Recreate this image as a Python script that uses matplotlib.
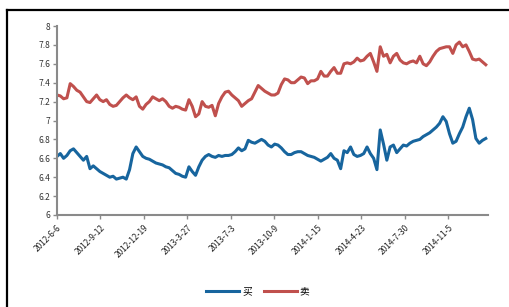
import matplotlib
matplotlib.use("Agg")
import matplotlib.pyplot as plt
from matplotlib.lines import Line2D
import pandas as pd

plt.rcParams['font.family'] = ['Noto Sans CJK SC', 'DejaVu Sans']

# ---- data ----
series_names = ["买", "卖"]
start_date = "2012-06-06"
end_date = "2015-01-28"
axis_end = "2015-02-02"

tick_labels = ["2012-6-6", "2012-9-12", "2012-12-19", "2013-3-27", "2013-7-3",
               "2013-10-9", "2014-1-15", "2014-4-23", "2014-7-30", "2014-11-5"]

blue_values = [
    6.62, 6.65, 6.60, 6.63, 6.68, 6.70, 6.66, 6.62, 6.58, 6.62,
    6.49, 6.52, 6.49, 6.46, 6.44, 6.42, 6.40, 6.41, 6.38, 6.39,
    6.40, 6.38, 6.48, 6.65, 6.72, 6.67, 6.62, 6.60, 6.59, 6.57,
    6.55, 6.54, 6.53, 6.51, 6.50, 6.47, 6.44, 6.43, 6.41, 6.40,
    6.51, 6.46, 6.42, 6.51, 6.58, 6.62, 6.64, 6.62, 6.61, 6.63,
    6.62, 6.63, 6.63, 6.64, 6.67, 6.71, 6.68, 6.70, 6.79, 6.77,
    6.76, 6.78, 6.80, 6.78, 6.74, 6.72,
    6.75, 6.74, 6.71, 6.67, 6.64, 6.64, 6.66, 6.67, 6.67, 6.65,
    6.63, 6.62, 6.61, 6.59, 6.57, 6.59, 6.61, 6.65, 6.60, 6.58,
    6.49, 6.68, 6.66, 6.72, 6.64, 6.62, 6.63, 6.65, 6.72, 6.65,
    6.60, 6.48, 6.90, 6.75, 6.58, 6.72, 6.74, 6.66, 6.70, 6.74,
    6.73, 6.76, 6.78, 6.79, 6.80, 6.83, 6.85, 6.87, 6.90, 6.93,
    6.97, 7.04, 6.99, 6.86, 6.76, 6.78, 6.86, 6.93, 7.04, 7.13,
    7.01, 6.81, 6.76, 6.79, 6.81,
]

red_values = [
    7.27, 7.26, 7.23, 7.24, 7.39, 7.36, 7.32, 7.30, 7.25, 7.20,
    7.19, 7.23, 7.27, 7.22, 7.20, 7.22, 7.17, 7.15, 7.16, 7.20,
    7.24, 7.27, 7.24, 7.22, 7.25, 7.15, 7.12, 7.17, 7.20, 7.25,
    7.23, 7.21, 7.23, 7.20, 7.15, 7.13, 7.15, 7.14, 7.12, 7.11,
    7.22, 7.15, 7.04, 7.07, 7.20, 7.15, 7.14, 7.16, 7.05, 7.18,
    7.25, 7.30, 7.31, 7.27, 7.24, 7.21, 7.15, 7.18, 7.21, 7.23,
    7.30, 7.37, 7.34, 7.31, 7.29, 7.27,
    7.27, 7.29, 7.38, 7.44, 7.43, 7.40, 7.40, 7.43, 7.46, 7.45,
    7.39, 7.42, 7.42, 7.44, 7.52, 7.47, 7.47, 7.52, 7.56, 7.50,
    7.50, 7.60, 7.61, 7.60, 7.62, 7.66, 7.63, 7.64, 7.68, 7.71,
    7.62, 7.52, 7.78, 7.68, 7.70, 7.61, 7.68, 7.71, 7.64, 7.61,
    7.60, 7.62, 7.63, 7.61, 7.68, 7.60, 7.58, 7.62, 7.68, 7.73,
    7.76, 7.77, 7.78, 7.78, 7.71, 7.80, 7.83, 7.78, 7.80, 7.73,
    7.65, 7.64, 7.65, 7.62, 7.59,
]

y_ticks = [6, 6.2, 6.4, 6.6, 6.8, 7, 7.2, 7.4, 7.6, 7.8, 8]
y_tick_labels = ["6", "6.2", "6.4", "6.6", "6.8", "7", "7.2", "7.4", "7.6", "7.8", "8"]

# ---- figure ----
W, H = 510, 307
fig = plt.figure(figsize=(W / 100, H / 100), dpi=100)
ax = fig.add_axes([57 / W, 1 - 215 / H, (488 - 57) / W, (215 - 26) / H])

blue = "#17659E"
red = "#C0504D"

blue_dates = pd.date_range(start_date, end_date, periods=len(blue_values))
red_dates = pd.date_range(start_date, end_date, periods=len(red_values))
ax.plot(blue_dates, blue_values, color=blue, lw=2.2, label=series_names[0])
ax.plot(red_dates, red_values, color=red, lw=2.2, label=series_names[1])

ax.set_ylim(6, 8)
ax.set_yticks(y_ticks)
ax.set_yticklabels(y_tick_labels)
ax.set_xlim(pd.Timestamp(start_date), pd.Timestamp(axis_end))
tick_dates = [pd.Timestamp(t) for t in tick_labels]
ax.set_xticks(tick_dates)
ax.set_xticklabels(tick_labels, rotation=45, ha="right", rotation_mode="anchor")

for s in ["top", "right"]:
    ax.spines[s].set_visible(False)
for s in ["left", "bottom"]:
    ax.spines[s].set_color("#8a8a8a")
    ax.spines[s].set_linewidth(1.5)

ax.tick_params(axis="y", length=3, width=1, color="#8a8a8a", labelsize=6,
               labelcolor="#333333", pad=2)
ax.tick_params(axis="x", length=3, width=1, color="#8a8a8a", labelsize=6,
               labelcolor="#222222", pad=3)

fig.legend(loc="center", bbox_to_anchor=(258 / W, 1 - 291 / H), ncol=2,
           frameon=False, fontsize=7, handlelength=3.4, handletextpad=0.3,
           columnspacing=1.2)

# outer frame (left and top edges)
fig.add_artist(Line2D([7.5 / W, 7.5 / W], [0, 1 - 10 / H], color="black", lw=1.6,
                      transform=fig.transFigure))
fig.add_artist(Line2D([7.5 / W, 1], [1 - 10 / H, 1 - 10 / H], color="black", lw=1.6,
                      transform=fig.transFigure))

fig.savefig("out.png", dpi=100)
